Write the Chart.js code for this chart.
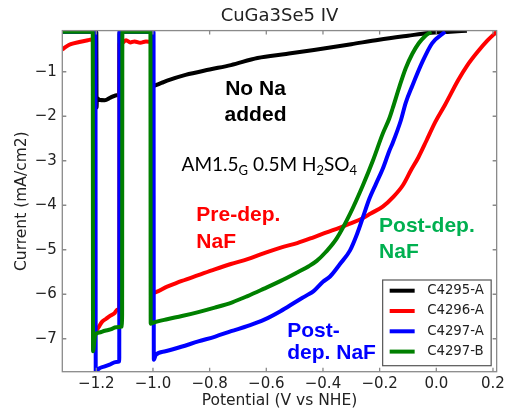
<html>
<head>
<title>CuGa3Se5 IV</title>
<style type="text/css">
body { margin: 0; background: #fff; }
</style>
<script src="https://cdn.jsdelivr.net/npm/chart.js"></script>
<script>
// potential (V vs NHE) / current (mA/cm2), chopped light sweeps
const seriesNames = ['C4295-A', 'C4296-A', 'C4297-A', 'C4297-B'];
const seriesColors = ['#000000', '#ff0000', '#0000ff', '#008000'];

const blackX = [-1.32, -1.2, -1.199, -1.198, -1.195, -1.19, -1.17, -1.15, -1.125, -1.119, -1.118,
	-1.004, -1.003, -0.97, -0.95, -0.885, -0.8, -0.725, -0.631, -0.53, -0.432, -0.3, -0.202, -0.1, -0.028, 0.05, 0.108];
const blackY = [-0.1, -0.1, -1.8, -1.62, -1.6, -1.63, -1.64, -1.58, -1.52, -1.5, -0.1,
	-0.1, -1.32, -1.25, -1.2, -1.07, -0.95, -0.85, -0.69, -0.6, -0.51, -0.38, -0.28, -0.19, -0.13, -0.1, -0.08];

const redX = [-1.32, -1.305, -1.29, -1.26, -1.23, -1.212, -1.211, -1.198, -1.19, -1.18, -1.165, -1.15, -1.135, -1.125, -1.119, -1.118,
	-1.11, -1.095, -1.08, -1.065, -1.045, -1.025, -1.004, -1.003, -0.95, -0.898, -0.84, -0.782, -0.725, -0.666,
	-0.61, -0.549, -0.491, -0.433, -0.387, -0.34, -0.3, -0.265, -0.23, -0.189, -0.15, -0.118, -0.09, -0.063,
	-0.035, -0.003, 0.031, 0.077, 0.11, 0.146, 0.18, 0.213];
const redY = [-0.5, -0.43, -0.38, -0.33, -0.29, -0.27, -6.9, -6.8, -6.72, -6.62, -6.55, -6.48, -6.42, -6.34, -6.33, -0.36,
	-0.36, -0.29, -0.34, -0.32, -0.35, -0.32, -0.33, -5.97, -5.83, -5.7, -5.57, -5.44, -5.32, -5.21,
	-5.08, -4.95, -4.85, -4.72, -4.61, -4.5, -4.4, -4.31, -4.18, -4.03, -3.8, -3.55, -3.22, -2.92,
	-2.55, -2.12, -1.74, -1.19, -0.85, -0.55, -0.3, -0.1];

const blueX = [-1.32, -1.203, -1.202, -1.195, -1.188, -1.17, -1.153, -1.13, -1.119, -1.1185,
	-0.998, -0.997, -0.99, -0.956, -0.9, -0.84, -0.78, -0.724, -0.665, -0.607, -0.55, -0.491, -0.456, -0.433,
	-0.4, -0.375, -0.34, -0.305, -0.28, -0.259, -0.236, -0.213, -0.189, -0.166, -0.154, -0.125, -0.108,
	-0.085, -0.05, -0.015, 0.031];
const blueY = [-0.1, -0.1, -7.8, -7.7, -7.66, -7.62, -7.58, -7.52, -7.51, -0.1,
	-0.1, -7.47, -7.36, -7.28, -7.18, -7.06, -6.95, -6.83, -6.71, -6.57, -6.38, -6.15, -6.02, -5.93,
	-5.72, -5.6, -5.32, -5.02, -4.65, -4.27, -3.85, -3.52, -3.18, -2.78, -2.6, -2.09, -1.7,
	-1.32, -0.79, -0.36, -0.1];

const greenX = [-1.32, -1.2125, -1.2115, -1.205, -1.2, -1.19, -1.17, -1.15, -1.13, -1.109, -1.108,
	-1.009, -1.008, -1.0, -0.95, -0.898, -0.84, -0.782, -0.72, -0.666, -0.61, -0.549, -0.491, -0.45, -0.422,
	-0.39, -0.352, -0.305, -0.259, -0.224, -0.189, -0.166, -0.154, -0.131, -0.108, -0.085, -0.062, -0.04, -0.018];
const greenY = [-0.1, -0.1, -7.28, -6.95, -6.88, -6.86, -6.82, -6.79, -6.74, -6.72, -0.1,
	-0.1, -6.66, -6.64, -6.56, -6.49, -6.4, -6.3, -6.18, -6.04, -5.88, -5.7, -5.51, -5.37, -5.25,
	-5.05, -4.75, -4.2, -3.55, -3.0, -2.39, -2.05, -1.82, -1.35, -0.92, -0.6, -0.36, -0.2, -0.1];

const xTicks = [-1.2, -1.0, -0.8, -0.6, -0.4, -0.2, 0.0, 0.2];
const yTicks = [-1, -2, -3, -4, -5, -6, -7];

// text notes, placed in data units (x = left/centre, y = baseline)
const notes = [
	{ text: 'No Na', x: -0.638, y: -1.526, color: '#000', align: 'center' },
	{ text: 'added', x: -0.638, y: -2.106, color: '#000', align: 'center' },
	{ text: 'Pre-dep.', x: -0.847, y: -4.364, color: '#ff0000', align: 'left' },
	{ text: 'NaF', x: -0.847, y: -4.95, color: '#ff0000', align: 'left' },
	{ text: 'Post-dep.', x: -0.202, y: -4.61, color: '#00b050', align: 'left' },
	{ text: 'NaF', x: -0.202, y: -5.18, color: '#00b050', align: 'left' },
	{ text: 'Post-', x: -0.526, y: -6.95, color: '#0000ff', align: 'left' },
	{ text: 'dep. NaF', x: -0.526, y: -7.46, color: '#0000ff', align: 'left' }
];
// electrolyte note with subscripts
const condition = { x: -0.899, y: -3.24, parts: [['AM1.5', 0], ['G', 1], [' 0.5M H', 0], ['2', 1], ['SO', 0], ['4', 1]] };

function pts(xs, ys)
{
	return xs.map((x, i) => ({ x: x, y: ys[i] }));
}

function fmt(v, d)
{
	return (v < 0 ? '\u2212' : '') + Math.abs(v).toFixed(d);
}

const frame = {
	id: 'frame',
	afterDatasetsDraw(chart) {
		const ctx = chart.ctx;
		const a = chart.chartArea;
		const xs = chart.scales.x, ys = chart.scales.y;
		ctx.save();
		// box + inward ticks on every side
		ctx.strokeStyle = '#8a8a8a';
		ctx.lineWidth = 1.3;
		ctx.strokeRect(a.left, a.top, a.right - a.left, a.bottom - a.top);
		ctx.beginPath();
		xTicks.forEach(v => {
			const p = xs.getPixelForValue(v);
			ctx.moveTo(p, a.bottom); ctx.lineTo(p, a.bottom - 4);
			ctx.moveTo(p, a.top); ctx.lineTo(p, a.top + 4);
		});
		yTicks.forEach(v => {
			const p = ys.getPixelForValue(v);
			ctx.moveTo(a.left, p); ctx.lineTo(a.left + 4, p);
			ctx.moveTo(a.right, p); ctx.lineTo(a.right - 4, p);
		});
		ctx.stroke();

		// notes
		ctx.font = 'bold 21px "Liberation Sans", Arial, sans-serif';
		ctx.textBaseline = 'alphabetic';
		notes.forEach(n => {
			ctx.fillStyle = n.color;
			ctx.textAlign = n.align;
			ctx.fillText(n.text, xs.getPixelForValue(n.x), ys.getPixelForValue(n.y));
		});
		ctx.fillStyle = '#000';
		ctx.textAlign = 'left';
		let cx = xs.getPixelForValue(condition.x);
		const cy = ys.getPixelForValue(condition.y);
		condition.parts.forEach(p => {
			ctx.font = p[1] ? '13px Lato, sans-serif' : '19px Lato, sans-serif';
			ctx.fillText(p[0], cx, cy + (p[1] ? 4 : 0));
			cx += ctx.measureText(p[0]).width;
		});

		// legend box, lower right
		const lr = a.right - 5.5, lb = a.bottom - 6;
		const lw = 108.5, lh = 85.7;
		ctx.fillStyle = '#fff';
		ctx.fillRect(lr - lw, lb - lh, lw, lh);
		ctx.strokeStyle = '#555';
		ctx.lineWidth = 1.2;
		ctx.strokeRect(lr - lw, lb - lh, lw, lh);
		ctx.font = '13.3px "DejaVu Sans", sans-serif';
		ctx.textBaseline = 'middle';
		chart.data.datasets.forEach((ds, i) => {
			const y = lb - lh + 10.7 + i * 20.3;
			ctx.strokeStyle = ds.borderColor;
			ctx.lineWidth = 4;
			ctx.beginPath();
			ctx.moveTo(lr - lw + 7, y); ctx.lineTo(lr - lw + 32, y);
			ctx.stroke();
			ctx.fillStyle = '#222';
			ctx.fillText(ds.label, lr - lw + 44.5, y);
		});
		ctx.restore();
	}
};

function load()
{
	const sets = [pts(blackX, blackY), pts(redX, redY), pts(blueX, blueY), pts(greenX, greenY)];
	const datasets = sets.map((d, i) => ({
		label: seriesNames[i],
		data: d,
		borderColor: seriesColors[i],
		backgroundColor: seriesColors[i],
		borderWidth: 4,
		pointRadius: 0,
		cubicInterpolationMode: 'monotone',
		clip: 0,
		order: 4 - i
	}));
	const tickFont = { family: 'DejaVu Sans', size: 15 };
	const labelFont = { family: 'DejaVu Sans', size: 15.5 };
	new Chart(document.getElementById('ivChart'), {
		type: 'line',
		data: { datasets: datasets },
		options: {
			responsive: false,
			animation: false,
			layout: { padding: { top: 0, right: 6, bottom: 0, left: 0 } },
			plugins: {
				legend: { display: false },
				tooltip: { enabled: false },
				title: {
					display: true,
					text: 'CuGa3Se5 IV',
					fullSize: false,
					color: '#222',
					font: { family: 'DejaVu Sans', size: 18, weight: 'normal' },
					padding: { top: 6, bottom: 3 }
				}
			},
			scales: {
				x: {
					type: 'linear',
					min: -1.32,
					max: 0.213,
					grid: { display: false, drawTicks: false },
					border: { display: false },
					afterBuildTicks: s => { s.ticks = xTicks.map(v => ({ value: v })); },
					afterFit: s => { s.height = 38.3; },
					ticks: { font: tickFont, color: '#222', padding: 3, maxRotation: 0, autoSkip: false,
						callback: v => fmt(v, 1) },
					title: { display: true, text: 'Potential (V vs NHE)', font: labelFont, color: '#222',
						padding: { top: 0, bottom: 0 } }
				},
				y: {
					type: 'linear',
					min: -7.74,
					max: -0.075,
					grid: { display: false, drawTicks: false },
					border: { display: false },
					afterBuildTicks: s => { s.ticks = yTicks.map(v => ({ value: v })); },
					afterFit: s => { s.width = 62.3; },
					ticks: { font: tickFont, color: '#222', padding: 5.5, autoSkip: false,
						callback: v => fmt(v, 0) },
					title: { display: true, text: 'Current (mA/cm2)', font: labelFont, color: '#222',
						padding: { top: 12.7, bottom: 0 } }
				}
			}
		},
		plugins: [frame]
	});
}
</script>
</head>
<body onload='load();'>
<canvas id="ivChart" width="508" height="410"></canvas>
</body>
</html>
